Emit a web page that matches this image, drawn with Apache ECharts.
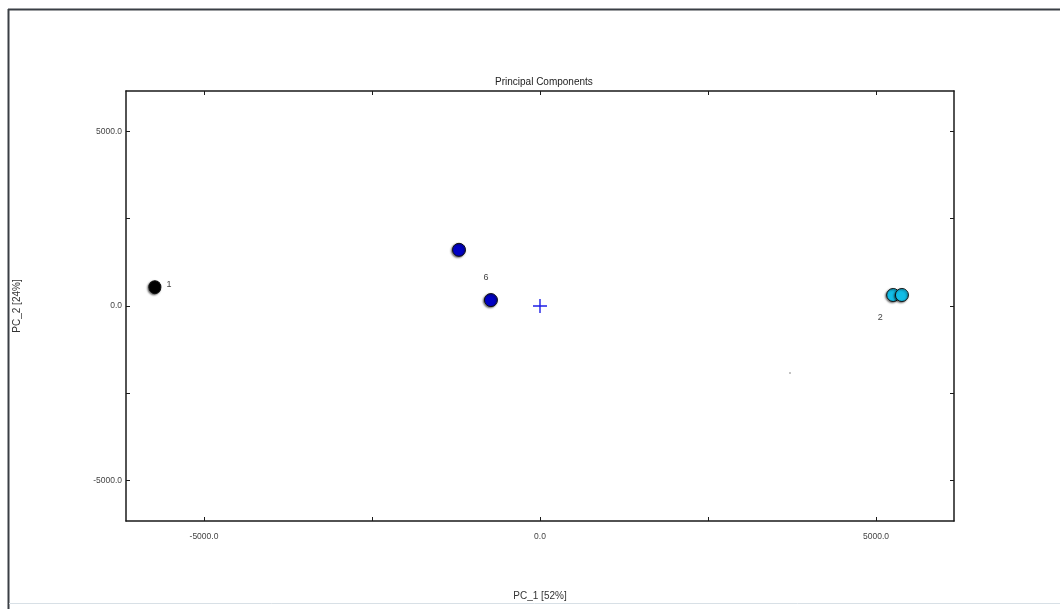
<!DOCTYPE html>
<html>
<head>
<meta charset="utf-8">
<script src="https://cdn.jsdelivr.net/npm/echarts@6/dist/echarts.min.js"></script>
<style>
  html, body { margin: 0; padding: 0; background: #ffffff; }
  #chart { width: 1060px; height: 609px; }
</style>
</head>
<body>
<div id="chart"></div>
<script>
// PCA scores: [PC_1, PC_2]
const group1 = [[-5730, 540]];
const group6 = [[-1205, 1610], [-730, 170]];
const group2 = [[5255, 315], [5385, 315]];
const centroid = [[0, 0]];
const stray = [[3720, -1920]];

const axisRange = [-6160, 6160];
const tickValues = [-5000, -2500, 0, 2500, 5000];
const labelValues = [-5000, 0, 5000];

const titleText = 'Principal Components';
const xName = 'PC_1 [52%]';
const yName = 'PC_2 [24%]';

const chart = echarts.init(document.getElementById('chart'), null, { renderer: 'canvas' });

const fontFamily = 'Liberation Sans, Arial, sans-serif';
const lineColor = '#1a1a1a';

function mainAxis(extra) {
  return Object.assign({
    type: 'value',
    min: axisRange[0],
    max: axisRange[1],
    axisLine: { show: true, onZero: false, lineStyle: { color: lineColor, width: 1.5 } },
    axisTick: { show: true, inside: true, length: 4, customValues: tickValues, lineStyle: { color: lineColor } },
    splitLine: { show: false }
  }, extra);
}

function mirrorAxis(extra) {
  return Object.assign({
    type: 'value',
    min: axisRange[0],
    max: axisRange[1],
    axisLine: { show: true, onZero: false, lineStyle: { color: lineColor, width: 1.5 } },
    axisTick: { show: true, inside: true, length: 4, customValues: tickValues, lineStyle: { color: lineColor } },
    axisLabel: { show: false },
    splitLine: { show: false }
  }, extra);
}

const pointStyle = (color) => ({
  color: color,
  opacity: 1,
  borderColor: '#111',
  borderWidth: 1,
  shadowBlur: 2,
  shadowColor: 'rgba(0,0,0,0.55)',
  shadowOffsetX: -1,
  shadowOffsetY: 1
});

const labelStyle = { fontSize: 9, color: '#444', fontFamily: fontFamily };
const tickLabel = (margin) => ({
  show: true, customValues: labelValues, fontSize: 8.5, color: '#444', fontFamily: fontFamily,
  margin: margin, formatter: v => v.toFixed(1)
});

chart.setOption({
  backgroundColor: '#ffffff',
  animation: false,
  title: {
    text: titleText,
    left: 490,
    top: 72,
    textStyle: { fontSize: 10, fontWeight: 'normal', color: '#222', fontFamily: fontFamily }
  },
  grid: { left: 126, right: 106, top: 91, bottom: 88, containLabel: false },
  xAxis: [
    mainAxis({
      position: 'bottom',
      name: xName, nameLocation: 'middle', nameGap: 70,
      nameTextStyle: { fontSize: 10, color: '#333', fontFamily: fontFamily },
      axisLabel: tickLabel(11)
    }),
    mirrorAxis({ position: 'top' })
  ],
  yAxis: [
    mainAxis({
      position: 'left',
      name: yName, nameLocation: 'middle', nameGap: 104, nameRotate: 90,
      nameTextStyle: { fontSize: 10, color: '#333', fontFamily: fontFamily },
      axisLabel: tickLabel(4)
    }),
    mirrorAxis({ position: 'right' })
  ],
  graphic: [
    { type: 'line', shape: { x1: 8, y1: 9.5, x2: 1060, y2: 9.5 }, style: { stroke: '#3a3f45', lineWidth: 2 }, silent: true },
    { type: 'line', shape: { x1: 8.5, y1: 9, x2: 8.5, y2: 609 }, style: { stroke: '#3a3f45', lineWidth: 2 }, silent: true },
    { type: 'line', shape: { x1: 9, y1: 603.5, x2: 1060, y2: 603.5 }, style: { stroke: '#d8e0e6', lineWidth: 1 }, silent: true }
  ],
  series: [
    {
      name: '1', type: 'scatter', xAxisIndex: 0, yAxisIndex: 0,
      data: group1, symbolSize: [12, 13],
      itemStyle: pointStyle('#000000'),
      label: { show: true, formatter: '1', position: 'right', offset: [0, -3], ...labelStyle }
    },
    {
      name: '6', type: 'scatter', xAxisIndex: 0, yAxisIndex: 0,
      data: group6, symbolSize: 13,
      itemStyle: pointStyle('#0000c4'),
      label: {
        show: true, position: 'top', offset: [-5, -6], ...labelStyle,
        formatter: p => (p.dataIndex === 1 ? '6' : '')
      }
    },
    {
      name: '2', type: 'scatter', xAxisIndex: 0, yAxisIndex: 0,
      data: group2, symbolSize: 13,
      itemStyle: pointStyle('#12bde6'),
      label: {
        show: true, position: 'bottom', offset: [-13, 6], ...labelStyle,
        formatter: p => (p.dataIndex === 0 ? '2' : '')
      }
    },
    {
      name: 'centroid', type: 'scatter', xAxisIndex: 0, yAxisIndex: 0,
      data: centroid, symbolSize: 14,
      symbol: 'path://M0,6.3L14,6.3L14,7.7L0,7.7Z M6.3,0L7.7,0L7.7,14L6.3,14Z',
      itemStyle: { color: '#1e1ee6', opacity: 1 }
    },
    {
      name: 'stray', type: 'scatter', xAxisIndex: 0, yAxisIndex: 0,
      data: stray, symbolSize: 2,
      itemStyle: { color: '#b0b0b0', opacity: 1 }
    }
  ]
});
</script>
</body>
</html>
